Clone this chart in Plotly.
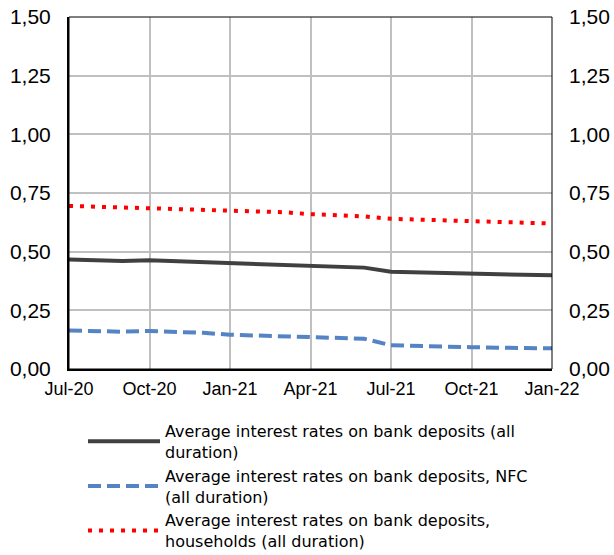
import plotly.graph_objects as go

months = ["Jul-20", "Aug-20", "Sep-20", "Oct-20", "Nov-20", "Dec-20",
          "Jan-21", "Feb-21", "Mar-21", "Apr-21", "May-21", "Jun-21",
          "Jul-21", "Aug-21", "Sep-21", "Oct-21", "Nov-21", "Dec-21", "Jan-22"]

total = [0.467, 0.463, 0.460, 0.463, 0.459, 0.453, 0.451, 0.447, 0.443, 0.439,
         0.437, 0.432, 0.414, 0.412, 0.409, 0.406, 0.404, 0.403, 0.399]
nfc = [0.164, 0.160, 0.159, 0.162, 0.160, 0.154, 0.146, 0.143, 0.139, 0.137,
       0.132, 0.129, 0.101, 0.097, 0.095, 0.093, 0.091, 0.090, 0.088]
households = [0.695, 0.692, 0.690, 0.685, 0.683, 0.679, 0.678, 0.673, 0.668, 0.660,
              0.655, 0.650, 0.640, 0.637, 0.633, 0.628, 0.626, 0.624, 0.620]

names = ["Average interest rates on bank deposits (all<br>duration)",
         "Average interest rates on bank deposits, NFC<br>(all duration)",
         "Average interest rates on bank deposits,<br>households (all duration)"]

x = list(range(len(months)))
tick_idx = x[::3]
tick_text = months[::3]
y_ticks = [0, 0.25, 0.5, 0.75, 1.0, 1.25, 1.5]

fig = go.Figure()
fig.add_trace(go.Scatter(x=x, y=total, mode="lines", name=names[0],
                         line=dict(color="#404040", width=4)))
fig.add_trace(go.Scatter(x=x, y=nfc, mode="lines", name=names[1],
                         line=dict(color="#5584c4", width=4, dash="13px,6px")))
fig.add_trace(go.Scatter(x=x, y=households, mode="lines", name=names[2],
                         line=dict(color="#ff0000", width=4, dash="4px,7px")))
# empty trace so the secondary (right) axis is drawn
fig.add_trace(go.Scatter(x=[], y=[], yaxis="y2", showlegend=False, hoverinfo="skip"))

font = "Liberation Sans, Arial, sans-serif"
fig.update_layout(
    width=614, height=555,
    margin=dict(l=69, r=62, t=17, b=186),
    paper_bgcolor="white", plot_bgcolor="white",
    separators=",.",
    font=dict(family=font, size=18, color="black"),
    showlegend=True,
    legend=dict(x=0.029, y=0.254, xref="paper", yref="container",
                xanchor="left", yanchor="top",
                font=dict(size=16, family="DejaVu Sans, sans-serif", color="black"),
                itemwidth=72, tracegroupgap=0, bgcolor="rgba(0,0,0,0)"),
    xaxis=dict(range=[0, 18], tickvals=tick_idx, ticktext=tick_text,
               showgrid=True, gridcolor="#c0c0c0", gridwidth=2,
               showline=True, linecolor="black", linewidth=2,
               ticks="", zeroline=False, tickfont=dict(size=18),
               automargin=False, ticklabelstandoff=2),
    yaxis=dict(range=[0, 1.5], tickvals=y_ticks, tickformat=".2f",
               showgrid=True, gridcolor="#c0c0c0", gridwidth=2,
               showline=True, linecolor="black", linewidth=2,
               ticks="", zeroline=False, tickfont=dict(size=21),
               automargin=False, ticklabelstandoff=12, ticklabeloverflow="allow"),
    yaxis2=dict(range=[0, 1.5], tickvals=y_ticks, tickformat=".2f",
                overlaying="y", side="right", showgrid=False,
                showline=False, zeroline=False, ticks="", tickfont=dict(size=21),
                automargin=False, ticklabelstandoff=16, ticklabeloverflow="allow"),
    shapes=[dict(type="rect", xref="paper", yref="paper", x0=0, x1=1, y0=0, y1=1,
                 line=dict(color="black", width=1), layer="above")],
)

fig.write_html("out.html", config={"displayModeBar": False},
               post_script="document.body.style.margin='0';")
